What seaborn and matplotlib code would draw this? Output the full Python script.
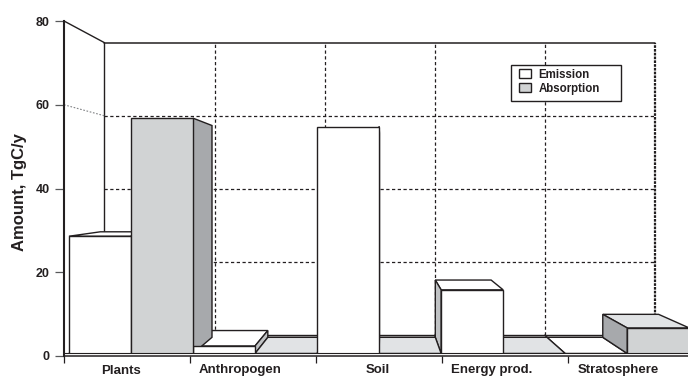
"""Emission and absorption by source, drawn as fake 3D bars."""

import matplotlib

matplotlib.use("Agg")
import matplotlib.pyplot as plt
import pandas as pd
import seaborn as sns
from matplotlib.patches import Polygon, Rectangle

categories = ["Plants", "Anthropogen", "Soil", "Energy prod.", "Stratosphere"]
emission = [28.6, 2.4, 54.8, 15.8, 0.0]
absorption = [56.8, 0.0, 0.0, 0.0, 6.7]
y_ticks = [0, 20, 40, 60, 80]

INK = "#231f20"
FRONT_GREY = "#d1d3d4"
SIDE_GREY = "#a7a9ac"
EMISSION_SIDE = "#c0c2c4"
TOP_GREY = "#e1e3e5"

# layout, everything else is derived from the axes scales
X_MIN, X_MAX = -0.54, 4.49
TICK_STEP = 126 / 124
X_TICKS = [X_MIN + TICK_STEP * i for i in range(5)]
LABEL_X = [-0.08, 0.88, 1.99, 2.91, 3.93]
LABEL_Y = [-3.5, -3.3, -3.3, -3.25, -3.35]
VANISH = (2.03, 39.2)
WALL_SCALE = 0.873
BAR_SCALE = 0.9
FLOOR = 0.6


def project(x, y, scale):
    return (
        VANISH[0] + (x - VANISH[0]) * scale,
        VANISH[1] + (y - VANISH[1]) * scale,
    )


def add_face(ax, corners, color):
    ax.add_patch(
        Polygon(corners, closed=True, facecolor=color, edgecolor=INK, lw=1, zorder=3)
    )


def draw_wall(ax):
    dashes = dict(color=INK, lw=0.9, ls=(0, (2.6, 2)), zorder=1)
    x_left = X_MIN
    x_right = X_MIN + TICK_STEP * 5
    for value in y_ticks:
        x0, y0 = project(x_left, value, WALL_SCALE)
        x1, y1 = project(x_right, value, WALL_SCALE)
        if value == 0:
            ax.plot([x0, x1], [y0, y1], color=INK, lw=1, zorder=1)
        elif value == 80:
            ax.plot([x0, x1], [y0, y1], color=INK, lw=1.1, zorder=1)
        else:
            ax.plot([x0, x1], [y0, y1], **dashes)
    for i in range(1, 6):
        x = X_MIN + TICK_STEP * i
        x0, y0 = project(x, 0, WALL_SCALE)
        x1, y1 = project(x, 80, WALL_SCALE)
        style = dict(dashes)
        if i == 5:
            style["lw"] = 1.6
            style["ls"] = (0, (1.2, 0.5))
        ax.plot([x0, x1], [y0, y1], **style)
        if i < 5:
            ax.plot([x, x0], [0, y0], color=INK, lw=1, zorder=1)

    # left wall edges and the back edge of the floor
    x0, y0 = project(x_left, 0, WALL_SCALE)
    x1, y1 = project(x_left, 80, WALL_SCALE)
    ax.plot([x0, x1], [y0, y1], color=INK, lw=1, zorder=1)
    ax.plot([x_left, x1], [80, y1], color=INK, lw=1, zorder=1, clip_on=False)
    ax.plot([x_left, x0], [0, y0], color=INK, lw=1, zorder=1)
    x2, y2 = project(x_left, 60, WALL_SCALE)
    ax.plot([x_left, x2], [60, y2], color="#808285", lw=0.8, ls=(0, (1.5, 1.5)), zorder=1)
    x3, y3 = project(x_left, FLOOR, BAR_SCALE)
    x4, y4 = project(x_right, FLOOR, BAR_SCALE)
    ax.plot([x0, x4], [y3, y4], color=INK, lw=1, zorder=1)


def draw_depth(ax, bars, top_color, side_color):
    for rect in bars:
        left = rect.get_x()
        right = left + rect.get_width()
        top = max(rect.get_height(), FLOOR)
        if top < VANISH[1]:
            add_face(
                ax,
                [
                    (left, top),
                    (right, top),
                    project(right, top, BAR_SCALE),
                    project(left, top, BAR_SCALE),
                ],
                top_color,
            )
        if top > FLOOR:
            edge = None
            if right < VANISH[0]:
                edge = right
            elif left > VANISH[0]:
                edge = left
            if edge is not None:
                add_face(
                    ax,
                    [
                        (edge, FLOOR),
                        (edge, top),
                        project(edge, top, BAR_SCALE),
                        project(edge, FLOOR, BAR_SCALE),
                    ],
                    side_color,
                )


def main():
    sns.set_theme(style="white")
    plt.rcParams["font.family"] = ["Liberation Sans", "DejaVu Sans"]
    plt.rcParams["font.weight"] = "bold"
    plt.rcParams["axes.labelweight"] = "bold"

    df = pd.DataFrame(
        {
            "category": categories * 2,
            "kind": ["Emission"] * 5 + ["Absorption"] * 5,
            "amount": emission + absorption,
        }
    )

    fig = plt.figure(figsize=(6.88, 3.76), dpi=100)
    ax = fig.add_axes([64 / 688, 20 / 376, 624 / 688, 335 / 376])

    sns.barplot(
        data=df,
        x="category",
        y="amount",
        hue="kind",
        palette={"Emission": "white", "Absorption": FRONT_GREY},
        width=1.0,
        edgecolor=INK,
        linewidth=1,
        saturation=1,
        zorder=4,
        ax=ax,
    )

    ax.set_xlim(X_MIN, X_MAX)
    ax.set_ylim(0, 80)
    draw_wall(ax)
    draw_depth(ax, ax.containers[0], "white", EMISSION_SIDE)
    draw_depth(ax, ax.containers[1], TOP_GREY, SIDE_GREY)

    # thin white strip between the floor's front edge and the x axis
    ax.axhspan(0, FLOOR, facecolor="white", edgecolor="none", zorder=5)
    ax.axhline(FLOOR, color=INK, lw=0.8, zorder=6)

    for side in ["top", "right"]:
        ax.spines[side].set_visible(False)
    ax.spines["left"].set_linewidth(1.5)
    ax.spines["bottom"].set_linewidth(1.1)
    for side in ["left", "bottom"]:
        ax.spines[side].set_color(INK)
        ax.spines[side].set_zorder(7)

    ax.set_yticks(y_ticks)
    ax.set_xticks(X_TICKS)
    ax.set_xticklabels([])
    ax.tick_params(axis="y", left=True, length=6.5, width=0.9, color="#58595b", pad=4, labelsize=9, labelcolor=INK)
    ax.tick_params(axis="x", bottom=True, length=5, width=0.9, color=INK)
    for x, y, name in zip(LABEL_X, LABEL_Y, categories):
        ax.text(x, y, name, ha="center", va="center", fontsize=9.5, color=INK, clip_on=False)

    ax.set_xlabel("")
    ax.set_ylabel("Amount, TgC/y", fontsize=12, color=INK, labelpad=6, y=0.49)

    # legend box is wider than its entries, so the frame is its own patch
    ax.add_patch(
        Rectangle(
            (510.7 / 688, 1 - 100.7 / 376),
            110 / 688,
            36 / 376,
            transform=fig.transFigure,
            facecolor="white",
            edgecolor=INK,
            lw=1,
            clip_on=False,
            zorder=9,
        )
    )
    handles, labels = ax.get_legend_handles_labels()
    leg = ax.legend(
        handles,
        labels,
        loc="upper left",
        bbox_to_anchor=(519.3 / 688, 1 - 68.5 / 376),
        bbox_transform=fig.transFigure,
        borderaxespad=0,
        borderpad=0,
        frameon=False,
        fontsize=8.3,
        labelcolor=INK,
        handlelength=0.98,
        handleheight=0.8,
        handletextpad=0.68,
        labelspacing=0.2,
        title=None,
    )
    leg.set_zorder(10)

    fig.savefig("out.png", dpi=100)


if __name__ == "__main__":
    main()
